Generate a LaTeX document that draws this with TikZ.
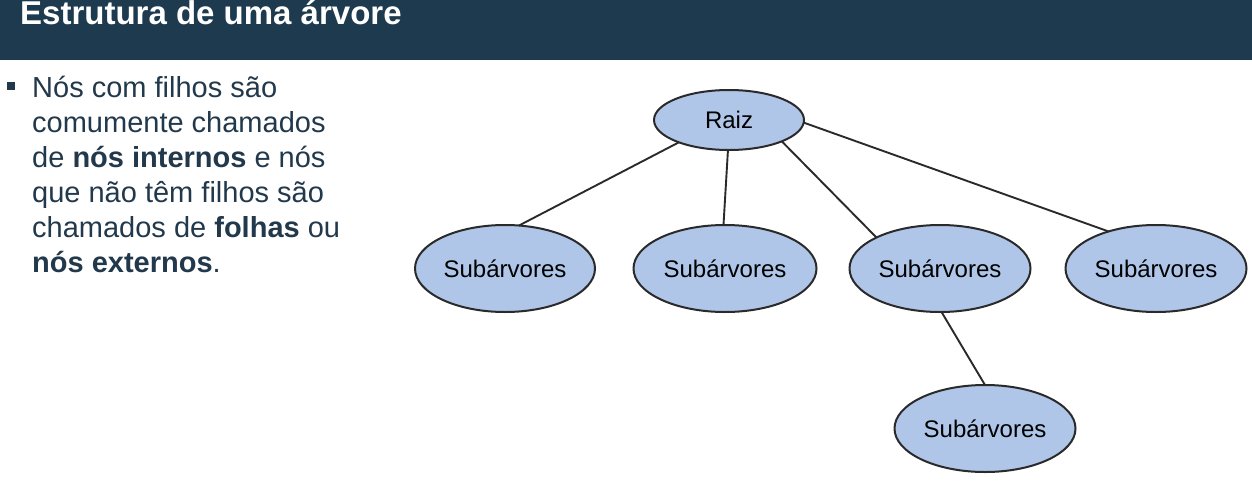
\documentclass[tikz,border=0pt]{standalone}
\usepackage{fontspec}
\setmainfont{Liberation Sans}
\usetikzlibrary{shapes.geometric}
\definecolor{barblue}{HTML}{1E3A4E}
\definecolor{bodytext}{HTML}{22394C}
\definecolor{nodefill}{HTML}{AFC6E8}
\definecolor{nodeline}{HTML}{2A2A2A}
\begin{document}
\begin{tikzpicture}[x=1pt,y=-1pt,
  treenode/.style={ellipse,draw=nodeline,fill=nodefill,line width=2pt,
    inner sep=0pt,outer sep=0pt,text=black,font=\fontsize{24}{28}\selectfont},
  subtree/.style={treenode,minimum width=181pt,minimum height=87pt},
  edge/.style={draw=nodeline,line width=1.9pt},
  bodyline/.style={anchor=base west,inner sep=0pt,text=bodytext,
    font=\fontsize{29}{35}\selectfont}]
  \clip (0,0) rectangle (1252,482);
  \useasboundingbox (0,0) rectangle (1252,482);
  % title bar
  \fill[barblue] (0,0) rectangle (1252,60);
  \node[anchor=base west,inner sep=0pt,text=white,
    font=\fontsize{33}{36}\selectfont\bfseries] (title) at (20,24) {Estrutura de uma árvore};
  % bullet and text
  \fill[bodytext] (7,82) rectangle (15,90);
  \node[bodyline] (l1) at (32,97) {Nós com filhos são};
  \node[bodyline] (l2) at (32,132) {comumente chamados};
  \node[bodyline] (l3) at (32,167) {de \textbf{nós internos} e nós};
  \node[bodyline] (l4) at (32,202) {que não têm filhos são};
  \node[bodyline] (l5) at (32,237) {chamados de \textbf{folhas} ou};
  \node[bodyline] (l6) at (32,272) {\textbf{nós externos}.};
  % tree
  \node[treenode,minimum width=150pt,minimum height=60pt] (raiz) at (729,120) {Raiz};
  \node[subtree,minimum width=180pt] (s1) at (505,268.5) {Subárvores};
  \node[subtree,minimum width=183pt] (s2) at (725,268.5) {Subárvores};
  \node[subtree] (s3) at (940,268.5) {Subárvores};
  \node[subtree] (s4) at (1156,268.5) {Subárvores};
  \node[subtree] (s5) at (985,428.5) {Subárvores};
  % connectors
  \path[edge] (raiz.204) -- (s1.72);
  \path[edge] (raiz.268) -- (s2.92);
  \path[edge] (raiz.338) -- (s3.154);
  \path[edge] (raiz.358) -- (s4.142);
  \path[edge] (s3.272) -- (s5.90);
\end{tikzpicture}
\end{document}
